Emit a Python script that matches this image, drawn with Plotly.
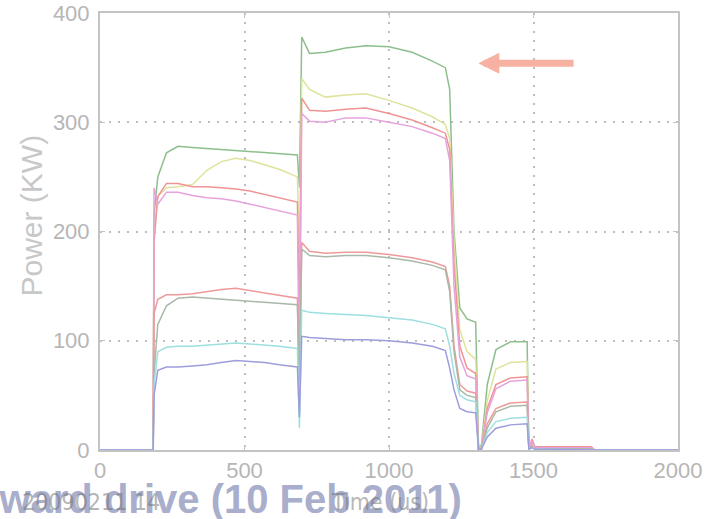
import plotly.graph_objects as go

# ---- data ----
time_us = [0, 184, 187, 200, 230, 270, 320, 370, 420, 470,
           520, 570, 620, 683, 690, 698, 725, 780, 850, 920,
           1000, 1080, 1150, 1195, 1210, 1225, 1245, 1270, 1300, 1310,
           1320, 1340, 1370, 1420, 1478, 1484, 1495, 1505, 1700, 1712, 2000]

green = [0, 0, 215, 250, 272, 278, 277, 276, 275, 274,
         273, 272, 271, 270, 240, 378, 363, 364, 368, 370,
         369, 364, 356, 350, 330, 200, 130, 120, 117, 0,
         5, 60, 92, 99, 99, 1, 6, 1, 1, 0, 0]
yellow = [0, 0, 200, 232, 240, 241, 243, 256, 264, 267,
          265, 261, 257, 250, 180, 340, 330, 323, 325, 326,
          320, 313, 305, 298, 285, 190, 110, 90, 83, 0,
          3, 45, 74, 80, 81, 1, 5, 1, 1, 0, 0]
red = [0, 0, 190, 232, 244, 244, 241, 241, 240, 239,
       237, 234, 231, 227, 120, 322, 311, 310, 312, 313,
       308, 302, 295, 290, 275, 170, 95, 75, 70, 0,
       2, 38, 60, 66, 67, 1, 10, 3, 3, 0, 0]
pink = [0, 0, 240, 225, 236, 236, 233, 231, 230, 228,
        225, 222, 219, 215, 60, 308, 301, 300, 304, 304,
        300, 296, 290, 285, 265, 150, 85, 68, 65, 0,
        2, 34, 56, 63, 64, 1, 8, 2, 2, 0, 0]
red_low = [0, 0, 125, 138, 142, 142, 143, 145, 147, 148,
           146, 144, 142, 139, 45, 190, 182, 180, 181, 181,
           179, 176, 172, 168, 150, 95, 60, 54, 52, 0,
           1, 24, 38, 43, 44, 1, 4, 1, 1, 0, 0]
olive = [0, 0, 70, 115, 132, 139, 140, 139, 138, 137,
         136, 135, 134, 133, 50, 184, 178, 177, 178, 178,
         176, 173, 169, 165, 145, 90, 55, 50, 48, 0,
         1, 20, 35, 40, 41, 1, 3, 1, 1, 0, 0]
cyan = [0, 0, 60, 90, 94, 95, 95, 96, 97, 98,
        97, 96, 95, 93, 20, 128, 126, 125, 124, 123,
        121, 119, 115, 111, 95, 70, 50, 46, 44, 0,
        1, 16, 26, 29, 30, 1, 2, 1, 0, 0, 0]
blue = [0, 0, 50, 73, 76, 76, 77, 78, 80, 82,
        81, 80, 78, 76, 30, 104, 103, 102, 101, 101,
        100, 98, 95, 91, 75, 55, 38, 35, 34, 0,
        1, 12, 20, 23, 24, 1, 2, 1, 0, 0, 0]

series_names = ["green", "yellow", "red", "pink", "red_low", "olive", "cyan", "blue"]
series_values = [green, yellow, red, pink, red_low, olive, cyan, blue]
series_colors = ["#8dbf8d", "#dfe39c", "#ef9494", "#e6a2dc",
                 "#ee9a9a", "#a9b9a9", "#9edfe0", "#9d9ddd"]

x_ticks = [0, 500, 1000, 1500, 2000]
y_ticks = [0, 100, 200, 300, 400]

arrow_tip = (1309, 354)
arrow_tail = (1644, 354)

fig = go.Figure()
for name, vals, col in zip(series_names, series_values, series_colors):
    fig.add_trace(go.Scatter(x=time_us, y=vals, mode="lines", name=name,
                             line=dict(color=col, width=1.5), showlegend=False))

narrow = "Liberation Sans Narrow, DejaVu Sans Condensed, sans-serif"
tick_font = dict(family="Liberation Sans, Arial, sans-serif", size=22, color="#b6b6b6")
axis_common = dict(showline=True, mirror="ticks", linecolor="#c4c4c4", linewidth=2,
                   ticks="inside", ticklen=5, tickcolor="#c4c4c4", tickwidth=1,
                   showgrid=True, gridcolor="#bdbdbd", griddash="2px,7px", gridwidth=1.5,
                   zeroline=False, tickfont=tick_font, automargin=False,
                   ticklabeloverflow="allow")

fig.update_xaxes(range=[0, 2000], tickvals=x_ticks, ticktext=[str(v) for v in x_ticks],
                 ticklabelstandoff=0, **axis_common)
fig.update_yaxes(range=[0, 400], tickvals=y_ticks, ticktext=[str(v) for v in y_ticks],
                 ticklabelstandoff=4, **axis_common)

fig.add_annotation(x=-0.151, y=0.537, xref="paper", yref="paper", text="Power (KW)",
                   textangle=-90, showarrow=False,
                   font=dict(family="Liberation Sans, Arial, sans-serif", size=30,
                             color="#c8c8c8"))

fig.add_annotation(x=arrow_tip[0], y=arrow_tip[1], ax=arrow_tail[0], ay=arrow_tail[1],
                   xref="x", yref="y", axref="x", ayref="y", text="",
                   showarrow=True, arrowhead=2, arrowsize=0.6, arrowwidth=7,
                   arrowcolor="#f6b1a3")

fig.add_annotation(x=0.63, y=-0.166, xref="paper", yref="paper", xanchor="right",
                   yanchor="bottom", text="<b>Forward drive (10 Feb 2011)</b>",
                   showarrow=False,
                   font=dict(family="Liberation Sans, Arial, sans-serif", size=40,
                             color="#a8aecb"))

fig.add_annotation(x=0.485, y=-0.153, xref="paper", yref="paper", text="Time (us)",
                   showarrow=False,
                   font=dict(family=narrow, size=23, color="rgba(120,120,120,0.55)"))
fig.add_annotation(x=-0.138, y=-0.153, xref="paper", yref="paper", xanchor="left",
                   text="20090211 14", showarrow=False,
                   font=dict(family=narrow, size=23, color="rgba(110,110,110,0.5)"))

fig.update_layout(width=706, height=519,
                  margin=dict(l=99.5, r=28, t=12.5, b=69, autoexpand=False),
                  paper_bgcolor="white", plot_bgcolor="white")

# remove the default page margin so the figure sits at the window's top-left corner
fig.write_html("out.html", config={"displayModeBar": False},
               post_script="document.body.style.margin='0';document.body.style.overflow='hidden';")
